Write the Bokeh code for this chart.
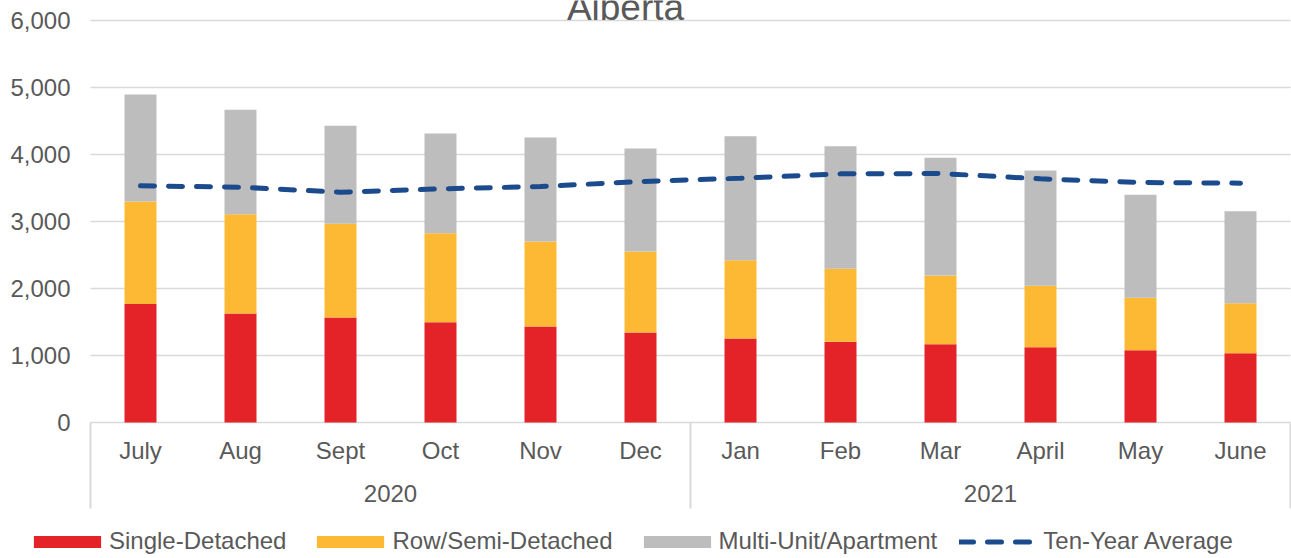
from bokeh.plotting import figure
from bokeh.models import (ColumnDataSource, Range1d, Legend, LegendItem, Label)
from bokeh.core.properties import value
from bokeh.embed import file_html
from bokeh.resources import INLINE

year_groups = ["2020", "2021"]
months = ["July", "Aug", "Sept", "Oct", "Nov", "Dec",
          "Jan", "Feb", "Mar", "April", "May", "June"]
single = [1770, 1627, 1567, 1497, 1433, 1343, 1254, 1204, 1169, 1124, 1080, 1035]
row_semi = [1528, 1482, 1398, 1329, 1268, 1209, 1169, 1090, 1025, 916, 781, 746]
multi = [1598, 1558, 1463, 1487, 1553, 1538, 1851, 1830, 1756, 1721, 1537, 1373]
ten_year = [3532, 3512, 3437, 3487, 3522, 3597, 3646, 3711, 3716, 3637, 3582, 3572]
y_ticks = [0, 1000, 2000, 3000, 4000, 5000, 6000]
series_names = ["Single-Detached", "Row/Semi-Detached", "Multi-Unit/Apartment",
                "Ten-Year Average"]

FONT = "Liberation Sans"
TXT = "#595959"
GRID = "#D9D9D9"
COLORS = ["#E32327", "#FDB934", "#BDBDBD"]
BLUE = "#1B4A8D"
FS = "24px"

W, H = 1291, 558
# horizontal scale: one category = 100 px, category area starts at page x 90
X0 = -0.9
X1 = X0 + W / 100.0
# vertical scale: 6000 -> page y 20, 0 -> page y 422
PPU = 402 / 6000.0
Y1 = 6000 + 20 / PPU
Y0 = -(H - 422) / PPU


def ypix(py):
    """data y for a page y below the zero line"""
    return -(py - 422) / PPU


n = len(months)
xc = [i + 0.5 for i in range(n)]          # category centres
group_size = n // len(year_groups)
xg = [group_size * (k + 0.5) for k in range(len(year_groups))]
bounds = [group_size * k for k in range(len(year_groups) + 1)]

src = ColumnDataSource(dict(x=xc, single=single, row_semi=row_semi, multi=multi,
                            avg=ten_year, month=months))

p = figure(width=W, height=H, output_backend="svg", toolbar_location=None,
           x_range=Range1d(X0, X1), y_range=Range1d(Y0, Y1),
           x_axis_location=None, y_axis_location=None,
           min_border_left=0, min_border_right=0, min_border_top=0,
           min_border_bottom=0)
p.outline_line_color = None
p.grid.visible = False

# value axis: gridlines and labels
p.segment(x0=[0] * len(y_ticks), x1=[n] * len(y_ticks), y0=y_ticks, y1=y_ticks,
          line_color=GRID, line_width=1.5)
p.text(x=[-0.2] * len(y_ticks), y=y_ticks, text=[f"{t:,}" for t in y_ticks],
       text_align="right", text_baseline="middle",
       text_font=value(FONT), text_font_size=FS, text_color=TXT)

# category axis separators (Excel-style)
p.segment(x0=bounds, x1=bounds, y0=[0] * len(bounds), y1=[ypix(508)] * len(bounds),
          line_color=GRID, line_width=2)

bars = p.vbar_stack(["single", "row_semi", "multi"], x="x", width=0.32,
                    color=COLORS, line_color=None, source=src)
ln = p.line(x="x", y="avg", source=src, line_width=5, line_dash="14 14",
            line_cap="round", line_color=BLUE)

# month and year labels
p.text(x="x", y=ypix(450), text="month", source=src,
       text_align="center", text_baseline="alphabetic",
       text_font=value(FONT), text_font_size=FS, text_color=TXT)
p.text(x=xg, y=[ypix(493)] * len(xg), text=year_groups,
       text_align="center", text_baseline="alphabetic",
       text_font=value(FONT), text_font_size=FS, text_color=TXT)

# title, mostly cut off at the top of the chart
p.add_layout(Label(x=5.35, y=6000 + 13 / PPU, text="Alberta",
                   text_align="center", text_baseline="alphabetic",
                   text_font=FONT, text_font_size="37px", text_color=TXT))

# legend (area swatches are drawn at 80% of the glyph box)
legend = Legend(items=[LegendItem(label=nm, renderers=[r])
                       for nm, r in zip(series_names, list(bars) + [ln])],
                orientation="horizontal", location=(25, 3),
                glyph_width=84, glyph_height=15, label_standoff=0, spacing=22,
                padding=0, margin=0, border_line_color=None,
                background_fill_alpha=0,
                label_text_font=FONT, label_text_font_size=FS,
                label_text_color=TXT)
p.add_layout(legend, "center")

open("out.html", "w").write(file_html(p, INLINE))
